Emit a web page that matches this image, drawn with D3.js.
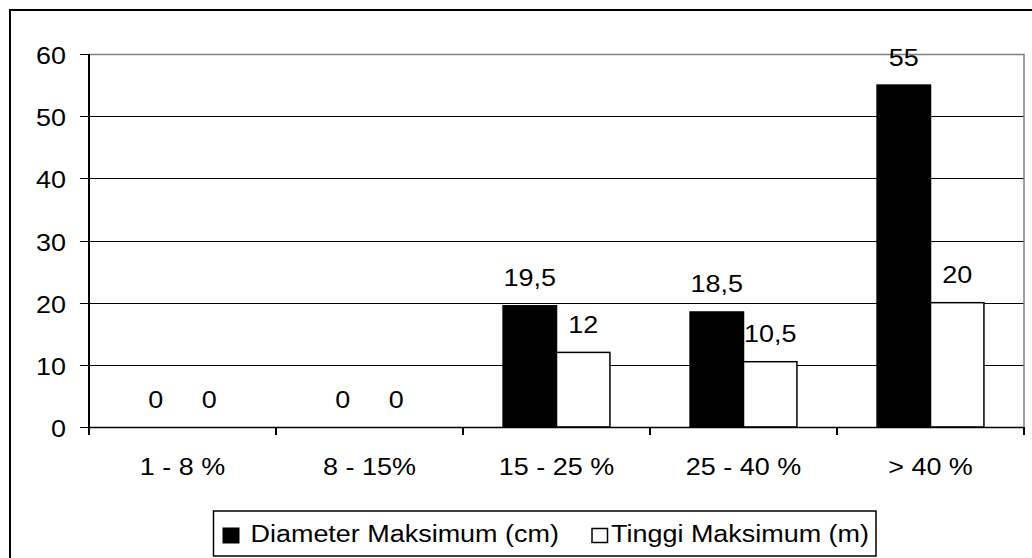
<!DOCTYPE html>
<html>
<head>
<meta charset="utf-8">
<script src="https://cdn.jsdelivr.net/npm/d3@7"></script>
<style>
  html, body { margin: 0; padding: 0; background: #fff; }
  svg { display: block; }
  text { font-family: "Liberation Sans", Arial, sans-serif; fill: #000; }
</style>
</head>
<body>
<svg id="chart" width="1032" height="558"></svg>
<script>
const categories = ["1 - 8 %", "8 - 15%", "15 - 25 %", "25 - 40 %", "> 40 %"];
const seriesNames = ["Diameter Maksimum (cm)", "Tinggi Maksimum (m)"];
const diameterValues = [0, 0, 19.5, 18.5, 55];
const tinggiValues = [0, 0, 12, 10.5, 20];
const yTicks = [0, 10, 20, 30, 40, 50, 60];

const FS = 24.5, SX = 1.1;
const svg = d3.select("#chart");
const fmt = v => String(v).replace(".", ",");

// outer chart border (runs off image right/bottom)
svg.append("rect").attr("x", 10).attr("y", 10).attr("width", 1040).attr("height", 560)
  .attr("fill", "none").attr("stroke", "#000").attr("stroke-width", 2);

const L = 89, R = 1024, T = 54, B = 427;
const x = d3.scaleBand().domain(categories).range([L, R]);
const y = d3.scaleLinear().domain([0, 60]).range([B, T]);

function txt(g, xx, yy, s, anchor) {
  return g.append("text")
    .attr("transform", `translate(${xx},${yy}) scale(${SX},1)`)
    .attr("text-anchor", anchor || "middle")
    .attr("font-size", FS)
    .text(s);
}

// gridlines
svg.append("g").selectAll("line").data(yTicks.filter(t => t > 0 && t < 60)).join("line")
  .attr("x1", L).attr("x2", R)
  .attr("y1", d => Math.round(y(d)) + 0.5).attr("y2", d => Math.round(y(d)) + 0.5)
  .attr("stroke", "#000").attr("stroke-width", 1);

// plot border top & right (grey)
svg.append("path")
  .attr("d", `M${L},${T + 0.5}H${R}V${B}`)
  .attr("fill", "none").attr("stroke", "#808080").attr("stroke-width", 1.5);

// bars
const bw = x.bandwidth() / 3.5;
const series = [diameterValues, tinggiValues];
const fills = ["#000", "#fff"];
series.forEach((vals, si) => {
  svg.append("g").selectAll("rect").data(categories).join("rect")
    .attr("x", (c) => x(c) + x.bandwidth() / 2 + (si === 0 ? -bw : 0))
    .attr("y", (c, i) => y(vals[i]))
    .attr("width", bw)
    .attr("height", (c, i) => B - y(vals[i]))
    .attr("fill", fills[si])
    .attr("stroke", "#000").attr("stroke-width", (c, i) => vals[i] > 0 ? 1.5 : 0);
});

// y axis
svg.append("line").attr("x1", L).attr("x2", L).attr("y1", T).attr("y2", B + 1)
  .attr("stroke", "#000").attr("stroke-width", 2);
const yg = svg.append("g");
yTicks.forEach(t => {
  const yy = Math.round(y(t)) + 0.5;
  yg.append("line").attr("x1", L - 9).attr("x2", L).attr("y1", yy).attr("y2", yy)
    .attr("stroke", "#000").attr("stroke-width", 1);
  txt(yg, 66, yy + 9.5, String(t), "end");
});

// x axis
svg.append("line").attr("x1", L).attr("x2", R).attr("y1", B + 0.5).attr("y2", B + 0.5)
  .attr("stroke", "#000").attr("stroke-width", 1.5);
const bounds = categories.map(c => x(c)).concat([R]);
bounds.forEach(bx => {
  svg.append("line").attr("x1", bx).attr("x2", bx).attr("y1", B).attr("y2", B + 8)
    .attr("stroke", "#000").attr("stroke-width", 2);
});
categories.forEach(c => txt(svg, x(c) + x.bandwidth() / 2, 475, c));

// data labels
series.forEach((vals, si) => {
  categories.forEach((c, i) => {
    const cx = x(c) + x.bandwidth() / 2 + (si === 0 ? -bw / 2 : bw / 2);
    txt(svg, cx, y(vals[i]) - 19.5, fmt(vals[i]));
  });
});

// legend
const lg = svg.append("g");
const box = lg.append("rect").attr("x", 213.5).attr("y", 511).attr("height", 45)
  .attr("fill", "#fff").attr("stroke", "#000").attr("stroke-width", 1.5);
lg.append("rect").attr("x", 223).attr("y", 528).attr("width", 16).attr("height", 15)
  .attr("fill", "#000").attr("stroke", "#000").attr("stroke-width", 1);
txt(lg, 250.5, 542, seriesNames[0], "start");
lg.append("rect").attr("x", 592).attr("y", 528.5).attr("width", 15.5).attr("height", 14)
  .attr("fill", "#fff").attr("stroke", "#000").attr("stroke-width", 1.5);
const t2 = txt(lg, 611, 542, seriesNames[1], "start");
const endX = 611 + t2.node().getComputedTextLength() * SX;
box.attr("width", endX + 7 - 213.5);
</script>
</body>
</html>
